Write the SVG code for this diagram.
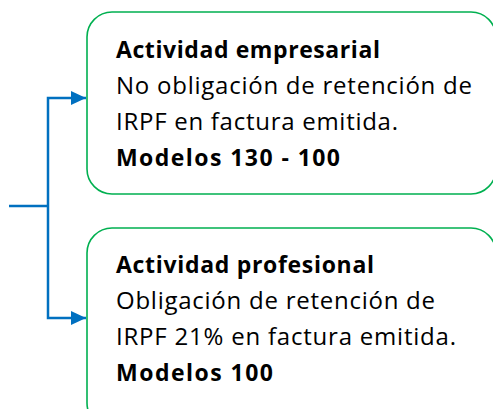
<svg xmlns="http://www.w3.org/2000/svg" width="493" height="409" viewBox="0 0 493 409">
<defs>
<style>
.box{fill:#fff;stroke:#00B050;stroke-width:1.6}
.t{font-family:"Open Sans","Noto Sans","Liberation Sans",sans-serif;font-size:24px;fill:#000}
.b{font-weight:bold;font-size:23px}
.c{fill:none;stroke:#0070C0;stroke-width:2.5}
</style>
<marker id="a" viewBox="0 0 10 10" refX="10" refY="5" markerWidth="15" markerHeight="14" markerUnits="userSpaceOnUse" orient="auto" preserveAspectRatio="none">
<path d="M0,0 L10,5 L0,10 Z" fill="#0070C0"/>
</marker>
</defs>
<rect width="493" height="409" fill="#fff"/>
<g id="node-empresarial">
<rect class="box" x="87" y="12" width="409" height="182" rx="25"/>
<text class="t b" x="116" y="58" textLength="264">Actividad empresarial</text>
<text class="t" x="116" y="94" textLength="356">No obligación de retención de</text>
<text class="t" x="116" y="130" textLength="282">IRPF en factura emitida.</text>
<text class="t b" x="116" y="166" textLength="224">Modelos 130 - 100</text>
</g>
<g id="node-profesional">
<rect class="box" x="87" y="228" width="409" height="200" rx="25"/>
<text class="t b" x="116" y="273" textLength="258">Actividad profesional</text>
<text class="t" x="116" y="309" textLength="319">Obligación de retención de</text>
<text class="t" x="116" y="345" textLength="340">IRPF 21% en factura emitida.</text>
<text class="t b" x="116" y="381" textLength="157">Modelos 100</text>
</g>
<g id="connectors">
<line class="c" x1="9" y1="206" x2="48" y2="206"/>
<path class="c" d="M48,206 V98 H86" marker-end="url(#a)"/>
<path class="c" d="M48,206 V318 H86" marker-end="url(#a)"/>
</g>
</svg>
